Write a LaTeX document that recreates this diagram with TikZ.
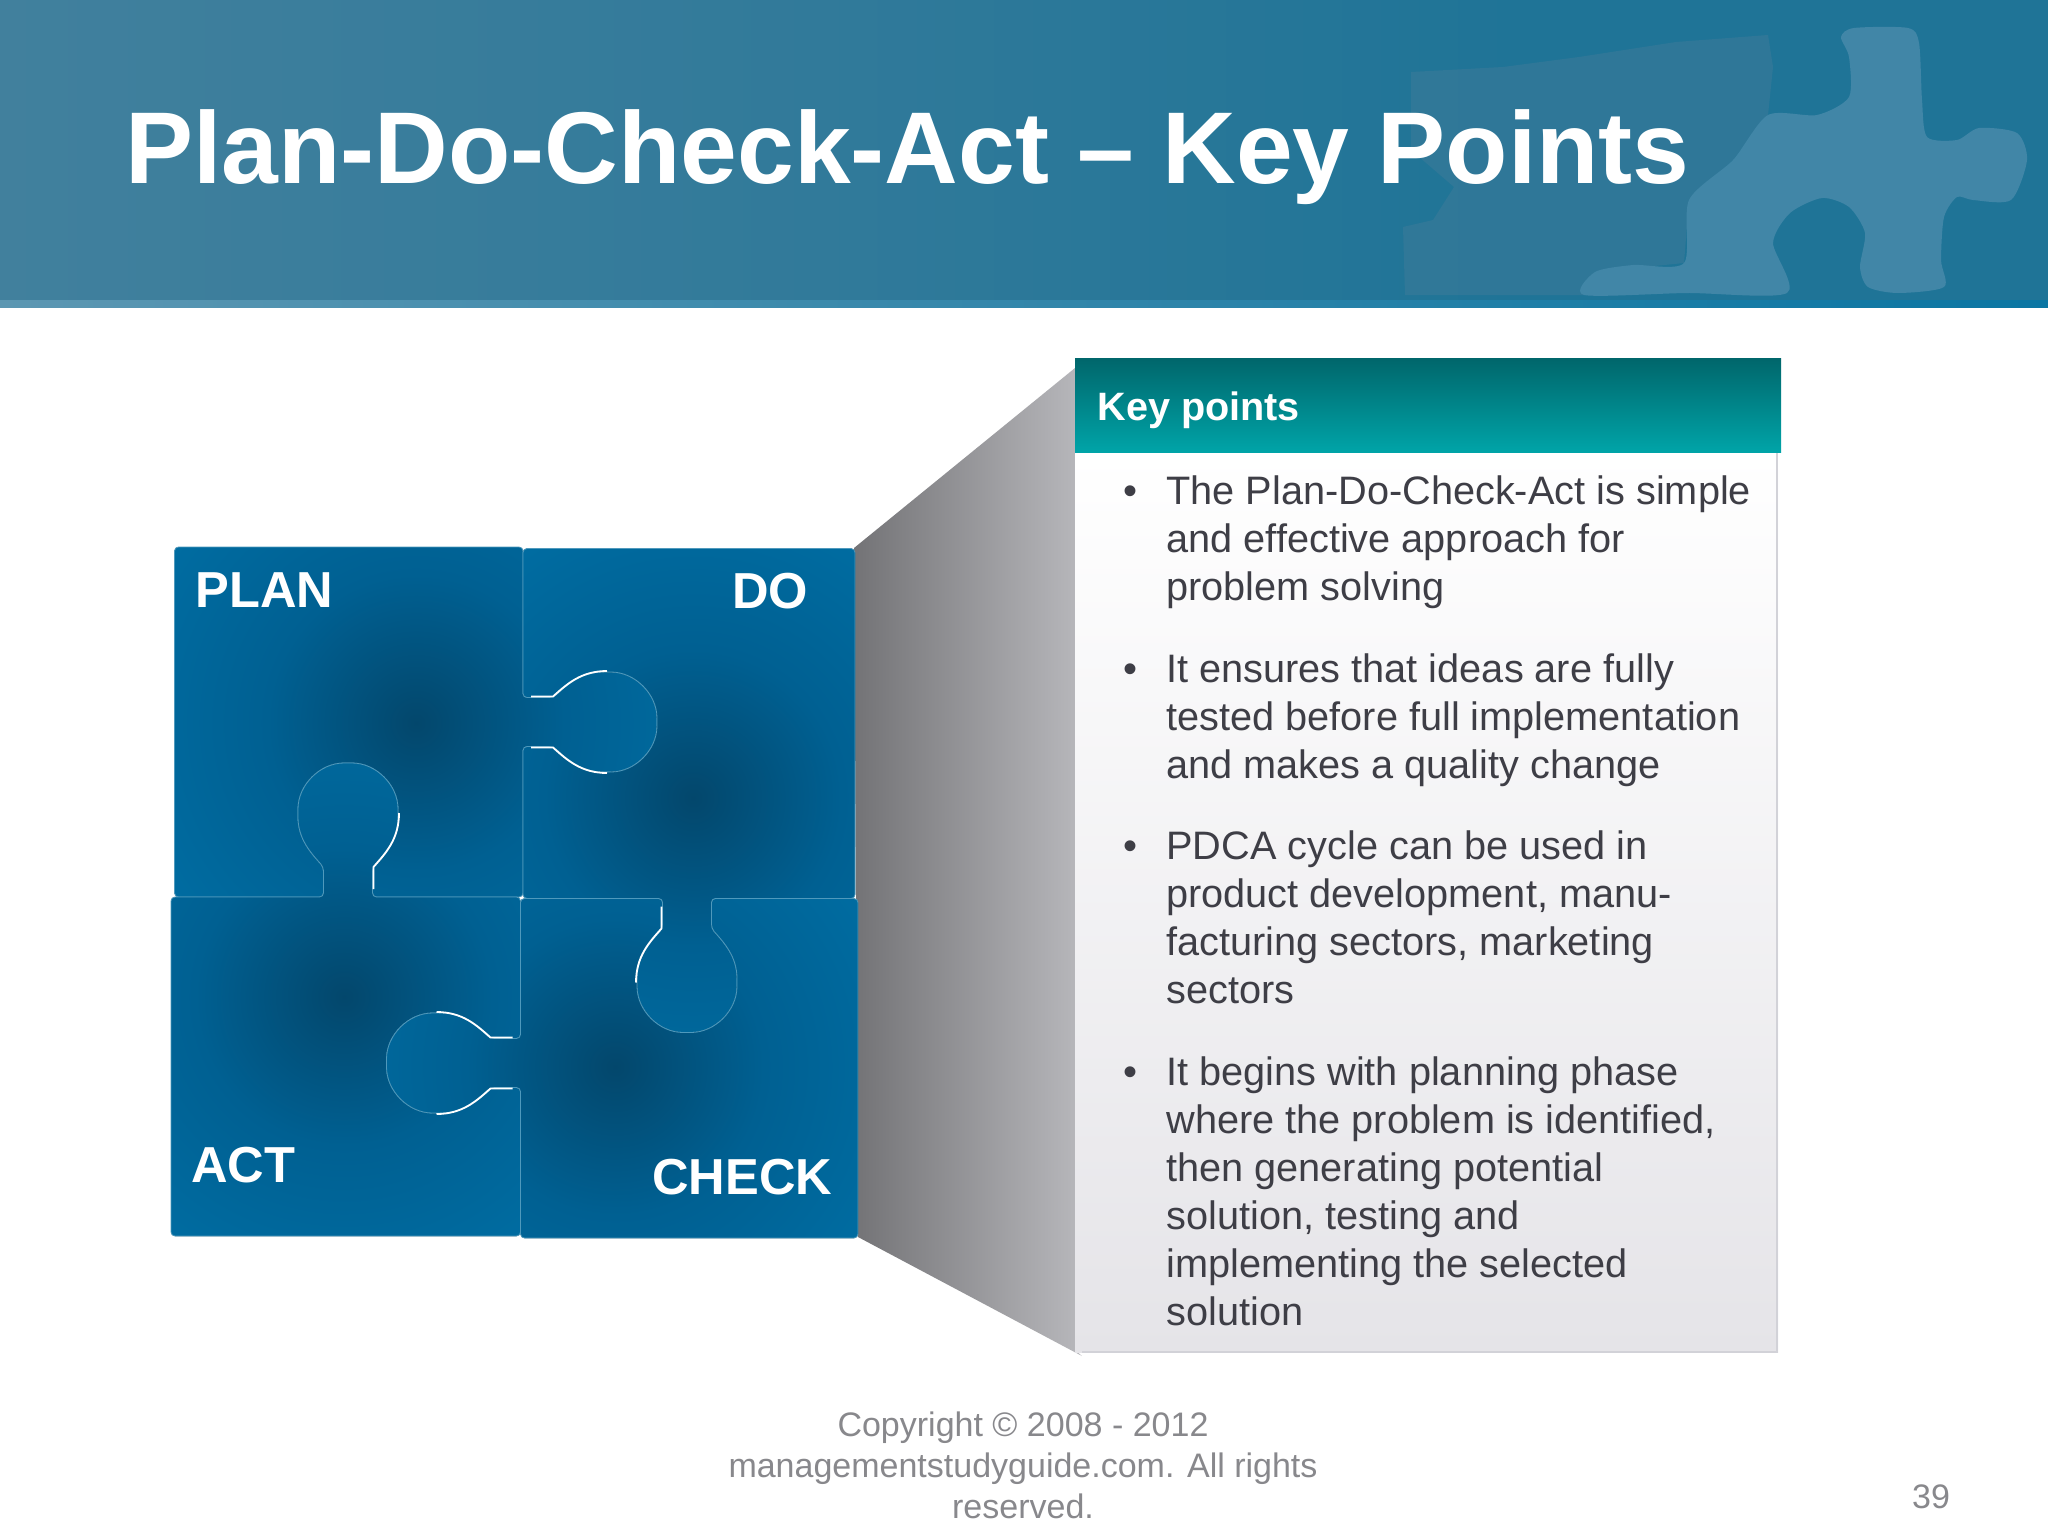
\documentclass[tikz,border=0pt]{standalone}
\usepackage{fontspec}
\setmainfont{Liberation Sans}
\definecolor{BannerLeft}{HTML}{4A85A1}
\definecolor{BannerNear}{HTML}{41809D}
\definecolor{BannerMid}{HTML}{317A9A}
\definecolor{BannerRight}{HTML}{1F7497}
\definecolor{RuleLeft}{HTML}{5C97B2}
\definecolor{RuleRight}{HTML}{0A76A3}
\definecolor{FadeLight}{HTML}{4186A7}
\definecolor{FadeGrey}{HTML}{3A7A99}
\definecolor{PieceDark}{HTML}{03476C}
\definecolor{PieceMid}{HTML}{006092}
\definecolor{PieceEdge}{HTML}{0078B0}
\definecolor{PieceLine}{HTML}{4F99BC}
\definecolor{WedgeLeft}{HTML}{737376}
\definecolor{WedgeRight}{HTML}{B8B8BC}
\definecolor{HeadTop}{HTML}{00666B}
\definecolor{HeadBottom}{HTML}{00A4A8}
\definecolor{BodyBottom}{HTML}{E5E4E8}
\definecolor{BodyLine}{HTML}{D2D2D8}
\definecolor{BodyText}{HTML}{3E3E46}
\definecolor{FootText}{HTML}{88888C}
\pgfdeclareradialshading{pieceglow}{\pgfpointorigin}{color(0bp)=(PieceDark); color(6bp)=(PieceMid); color(18bp)=(PieceEdge); color(50bp)=(PieceEdge)}
\pgfdeclarehorizontalshading{bannerglow}{100bp}{color(0bp)=(BannerLeft); color(25bp)=(BannerNear); color(45bp)=(BannerMid); color(62bp)=(BannerRight); color(100bp)=(BannerRight)}
\tikzset{
	fadepiece/.style={fill=FadeLight},
	pieceline/.style={draw=PieceLine,line width=.4pt,rounded corners=2pt},
	gapstroke/.style={draw=white,line width=.9pt},
	piecelabel/.style={anchor=base west,inner sep=0pt,text=white,font=\fontsize{25.3}{30}\selectfont\bfseries},
	bodytext/.style={anchor=north west,inner sep=0pt,align=left,text=BodyText,font=\fontsize{19.85}{24}\selectfont},
	bulletmark/.style={anchor=base,inner sep=0pt,text=BodyText,font=\fontsize{20}{24}\selectfont},
	foottext/.style={inner sep=0pt,text=FootText,font=\fontsize{17}{20.5}\selectfont}
}
\def\knobseg#1#2{{[shift={#1},rotate=#2] -- (0,-24.5) -- (30,-24.5) .. controls (44,-37) and (58,-50) .. (84,-50) .. controls (112,-50) and (134,-28) .. (134,0) .. controls (134,28) and (112,50) .. (84,50) .. controls (58,50) and (44,37) .. (30,24.5) -- (0,24.5)}}
\def\sockseg#1#2{{[shift={#1},rotate=#2,yscale=-1] -- (0,-24.5) -- (30,-24.5) .. controls (44,-37) and (58,-50) .. (84,-50) .. controls (112,-50) and (134,-28) .. (134,0) .. controls (134,28) and (112,50) .. (84,50) .. controls (58,50) and (44,37) .. (30,24.5) -- (0,24.5)}}
\def\puzzlepiece#1#2{\path[pieceline,path picture={\fill[shading=pieceglow] #1 circle (310pt);}] #2;}
\def\gapmark#1#2#3{\draw[gapstroke,shift={#1},rotate=#2,yscale=#3] (8,25.5) -- (30,25.5) .. controls (44,38) and (58,51) .. (84,51);}

\begin{document}
\begin{tikzpicture}[x=.5pt,y=-.5pt]
	\useasboundingbox (0,0) rectangle (2048,1536);
	\fill[white] (0,0) rectangle (2048,1536);
	\shade[shading=bannerglow] (0,0) rectangle (2048,300);
	\fill[FadeGrey,opacity=.6] (1411,72) -- (1503,67) -- (1579,57) -- (1676,42) -- (1768,35) -- (1773,67) -- (1768,115) -- (1733,160) -- (1689,200) -- (1684,263) -- (1595,272) -- (1584,295) -- (1405,295) -- (1403,227) -- (1433,220) -- (1454,187) -- (1411,150) -- cycle;
	\fill[fadepiece] plot[smooth cycle,tension=.45] coordinates {(1584,295) (1595,272) (1633,265) (1684,263) (1689,200) (1733,160) (1768,115) (1817,115) (1849,97) (1849,57) (1841,37) (1854,28) (1908,28) (1919,43) (1922,100) (1927,137) (1957,140) (1979,128) (2017,133) (2027,160) (2011,200) (1973,200) (1957,197) (1944,217) (1941,260) (1944,287) (1898,293) (1868,287) (1860,267) (1865,233) (1849,207) (1822,198) (1790,213) (1773,243) (1787,293) (1687,293)};
	\shade[left color=RuleLeft,right color=RuleRight] (0,300) rectangle (2048,307);
	\node[anchor=base west,inner sep=0pt,text=white,font=\fontsize{51}{60}\selectfont\bfseries] (title) at (125,183) {Plan-Do-Check-Act – Key Points};

	\shade[left color=WedgeLeft,right color=WedgeRight] (854,548) -- (1075,368) -- (1075,1350) -- (1082,1356) -- (858,1237) -- cycle;
	\shade[top color=white,bottom color=BodyBottom] (1075,452) rectangle (1778,1352);
	\draw[BodyLine,line width=1pt] (1777,452) -- (1777,1352) -- (1082,1352);
	\shade[top color=HeadTop,bottom color=HeadBottom] (1075,358) rectangle (1781,452);
	\node[anchor=base west,inner sep=0pt,text=white,font=\fontsize{19.8}{24}\selectfont\bfseries] (keyhead) at (1097,420) {Key points};

	\node[bulletmark] (marka) at (1130,504) {•};
	\node[bodytext] (texta) at (1166,475) {The Plan-Do-Check-Act is simple\\and effective approach for\\problem solving};
	\node[bulletmark] (markb) at (1130,682) {•};
	\node[bodytext] (textb) at (1166,653) {It ensures that ideas are fully\\tested before full implementation\\and makes a quality change};
	\node[bulletmark] (markc) at (1130,859) {•};
	\node[bodytext] (textc) at (1166,830) {PDCA cycle can be used in\\product development, manu-\\facturing sectors, marketing\\sectors};
	\node[bulletmark] (markd) at (1130,1085) {•};
	\node[bodytext] (textd) at (1166,1056) {It begins with planning phase\\where the problem is identified,\\then generating potential\\solution, testing and\\implementing the selected\\solution};

	\puzzlepiece{(416,723)}{(174.5,547) -- (523,547) \knobseg{(523,722)}{0} -- (523,897) \sockseg{(348,897)}{90} -- (174.5,897) -- cycle}
	\puzzlepiece{(693,798)}{(523,548.5) -- (855,548.5) -- (855,898.5) \knobseg{(687,898.5)}{270} -- (523,898.5) \sockseg{(523,722)}{0} -- cycle}
	\puzzlepiece{(344,997)}{(171,897) \knobseg{(348,897)}{90} -- (520.5,897) \sockseg{(520.5,1063)}{180} -- (520.5,1236) -- (171,1236) -- cycle}
	\puzzlepiece{(615,1067)}{(520.5,898.5) \sockseg{(687,898.5)}{270} -- (858,898.5) -- (858,1238) -- (520.5,1238) \knobseg{(520.5,1063)}{180} -- cycle}
	\gapmark{(523,722)}{0}{1}
	\gapmark{(523,722)}{0}{-1}
	\gapmark{(348,897)}{90}{1}
	\gapmark{(687,898.5)}{270}{1}
	\gapmark{(520.5,1063)}{180}{1}
	\gapmark{(520.5,1063)}{180}{-1}

	\node[piecelabel] (plan) at (195,607) {PLAN};
	\node[piecelabel] (do) at (732,608) {DO};
	\node[piecelabel] (act) at (191,1182) {ACT};
	\node[piecelabel] (check) at (652,1194) {CHECK};

	\node[foottext,anchor=base] (copya) at (1023,1436) {Copyright © 2008 - 2012};
	\node[foottext,anchor=base] (copyb) at (1023,1477) {managementstudyguide.com. All rights};
	\node[foottext,anchor=base] (copyc) at (1023,1518) {reserved.};
	\node[foottext,anchor=base] (page) at (1931,1508) {39};
\end{tikzpicture}
\end{document}
